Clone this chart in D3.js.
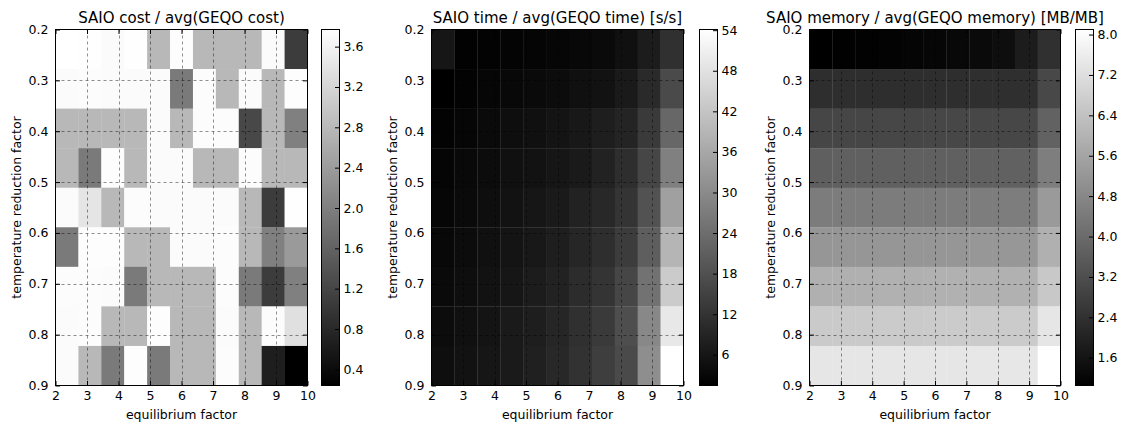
<!DOCTYPE html>
<html>
<head>
<meta charset="utf-8">
<script src="https://cdn.jsdelivr.net/npm/d3@7"></script>
<style>
  html, body { margin: 0; padding: 0; background: #fff; }
  svg { display: block; font-family: "DejaVu Sans", sans-serif; }
</style>
</head>
<body>
<svg id="fig" width="1125" height="428"></svg>
<script>
// Axis ticks shared by all three heatmaps
const equilibriumTicks = [2, 3, 4, 5, 6, 7, 8, 9, 10];
const temperatureTicks = [0.2, 0.3, 0.4, 0.5, 0.6, 0.7, 0.8, 0.9];

// Rows: temperature reduction factor (top to bottom), columns: equilibrium factor (left to right)
const costRatio = [
  [3.77, 3.76, 3.72, 3.75, 2.79, 3.74, 2.79, 2.79, 2.79, 3.71, 1.07],
  [3.72, 3.73, 3.72, 3.71, 3.72, 1.93, 3.73, 2.79, 3.72, 2.79, 3.74],
  [2.79, 2.79, 2.79, 2.79, 3.72, 2.79, 3.73, 3.73, 1.24, 2.79, 2.01],
  [2.79, 1.93, 3.74, 2.79, 3.72, 3.72, 2.79, 2.79, 3.73, 2.79, 2.79],
  [3.72, 3.41, 2.79, 3.73, 3.72, 3.72, 3.72, 3.72, 2.79, 1.07, 3.75],
  [1.93, 3.74, 3.74, 2.79, 2.79, 3.72, 3.72, 3.73, 2.79, 2.01, 2.37],
  [3.73, 3.73, 3.72, 1.93, 2.79, 2.79, 2.79, 3.73, 1.93, 1.07, 2.01],
  [3.72, 3.73, 2.79, 2.79, 3.74, 2.79, 2.79, 3.72, 2.79, 3.73, 3.34],
  [3.72, 2.79, 1.93, 3.74, 1.93, 2.79, 2.79, 3.73, 2.79, 0.66, 0.24]
];

const timeRatio = [
  [6.00, 1.87, 2.08, 2.29, 2.49, 2.70, 3.11, 3.52, 4.76, 7.24, 11.37],
  [1.46, 2.08, 2.70, 3.11, 3.52, 3.94, 4.76, 5.18, 6.83, 10.13, 16.73],
  [2.08, 2.70, 3.52, 4.35, 4.76, 5.59, 6.41, 7.65, 8.89, 13.43, 22.72],
  [2.49, 3.32, 3.94, 4.76, 5.18, 6.00, 6.83, 8.48, 10.95, 15.91, 27.88],
  [2.70, 3.52, 4.35, 5.18, 6.00, 6.83, 8.48, 9.72, 12.19, 18.38, 34.49],
  [3.11, 3.94, 4.76, 5.59, 6.41, 7.65, 9.30, 10.95, 13.84, 20.86, 38.82],
  [3.52, 4.35, 5.18, 6.00, 7.24, 8.48, 10.54, 12.19, 15.91, 24.99, 43.36],
  [3.94, 4.76, 5.59, 6.83, 7.65, 9.30, 11.37, 13.43, 17.56, 29.53, 49.34],
  [4.35, 5.18, 6.00, 6.83, 8.06, 9.72, 11.78, 14.26, 16.73, 30.77, 54.10]
];

const memoryRatio = [
  [1.05, 1.08, 1.11, 1.13, 1.19, 1.22, 1.27, 1.33, 1.44, 1.82, 2.38],
  [2.31, 2.32, 2.32, 2.33, 2.32, 2.33, 2.33, 2.34, 2.34, 2.35, 3.04],
  [2.98, 2.99, 2.99, 3.00, 2.99, 3.00, 3.00, 3.01, 3.01, 3.02, 3.76],
  [3.69, 3.70, 3.70, 3.71, 3.70, 3.71, 3.71, 3.72, 3.72, 3.73, 4.53],
  [4.47, 4.48, 4.48, 4.49, 4.48, 4.49, 4.49, 4.50, 4.50, 4.51, 5.31],
  [5.19, 5.20, 5.20, 5.21, 5.20, 5.21, 5.21, 5.22, 5.22, 5.23, 5.92],
  [5.91, 5.92, 5.92, 5.93, 5.92, 5.93, 5.93, 5.94, 5.94, 5.95, 6.58],
  [6.63, 6.64, 6.64, 6.65, 6.64, 6.65, 6.65, 6.66, 6.66, 6.67, 7.41],
  [7.40, 7.41, 7.41, 7.42, 7.41, 7.42, 7.42, 7.43, 7.43, 7.44, 8.10]
];

// Colorbar tick labels
const costBarTicks = [0.4, 0.8, 1.2, 1.6, 2.0, 2.4, 2.8, 3.2, 3.6];
const timeBarTicks = [6, 12, 18, 24, 30, 36, 42, 48, 54];
const memoryBarTicks = [1.6, 2.4, 3.2, 4.0, 4.8, 5.6, 6.4, 7.2, 8.0];

const titles = [
  "SAIO cost / avg(GEQO cost)",
  "SAIO time / avg(GEQO time) [s/s]",
  "SAIO memory / avg(GEQO memory) [MB/MB]"
];
const xLabel = "equilibrium factor";
const yLabel = "temperature reduction factor";

// Layout
const TOP = 29.5, BOTTOM = 385.5;
const FONT = "DejaVu Sans";
const TICK_FS = 12.5, TITLE_FS = 15;
const TICK_LEN = 4.5;

const panels = [
  { values: costRatio,   bar: costBarTicks,   fmt: d3.format(".1f"), left: 55.5,  right: 307.5,  cbL: 321.5,  cbR: 339.5 },
  { values: timeRatio,   bar: timeBarTicks,   fmt: d3.format("d"),   left: 431.5, right: 683.5,  cbL: 699.5,  cbR: 717.5 },
  { values: memoryRatio, bar: memoryBarTicks, fmt: d3.format(".1f"), left: 809.5, right: 1060.5, cbL: 1075.5, cbR: 1093.5 }
];

const svg = d3.select("#fig");
const defs = svg.append("defs");

function styleAxis(g) {
  g.select(".domain").remove();
  g.attr("font-family", FONT).attr("font-size", TICK_FS);
  g.selectAll(".tick line").attr("stroke", "#000").attr("stroke-width", 1);
  g.selectAll(".tick text").attr("fill", "#000");
}

panels.forEach((p, idx) => {
  const g = svg.append("g");
  const nRows = p.values.length, nCols = p.values[0].length;

  const x = d3.scaleLinear().domain([2, 10]).range([p.left, p.right]);
  const y = d3.scaleLinear().domain([0.2, 0.9]).range([TOP, BOTTOM]);
  const colBand = d3.scaleBand().domain(d3.range(nCols)).range([p.left, p.right]);
  const rowBand = d3.scaleBand().domain(d3.range(nRows)).range([TOP, BOTTOM]);
  const ext = d3.extent(p.values.flat());
  const color = d3.scaleLinear().domain(ext).range(["#000000", "#ffffff"]).clamp(true);

  // Heatmap cells
  g.append("g")
    .selectAll("g")
    .data(p.values)
    .join("g")
    .selectAll("rect")
    .data((row, i) => row.map((v, j) => ({ v, i, j })))
    .join("rect")
    .attr("x", d => colBand(d.j))
    .attr("y", d => rowBand(d.i))
    .attr("width", colBand.bandwidth() + 0.3)
    .attr("height", rowBand.bandwidth() + 0.3)
    .attr("fill", d => color(d.v));

  // Dashed grid at every tick
  const grid = g.append("g")
    .attr("stroke", "#000")
    .attr("stroke-opacity", 0.55)
    .attr("stroke-width", 0.8)
    .attr("stroke-dasharray", "3,3");
  grid.selectAll("line.vx")
    .data(equilibriumTicks.slice(1, -1))
    .join("line")
    .attr("x1", d => Math.round(x(d)) + 0.5).attr("x2", d => Math.round(x(d)) + 0.5)
    .attr("y1", TOP).attr("y2", BOTTOM);
  grid.selectAll("line.hy")
    .data(temperatureTicks.slice(1, -1))
    .join("line")
    .attr("y1", d => Math.round(y(d)) + 0.5).attr("y2", d => Math.round(y(d)) + 0.5)
    .attr("x1", p.left).attr("x2", p.right);

  // Inward ticks on all four sides
  g.append("g").attr("transform", `translate(0,${BOTTOM})`)
    .call(d3.axisBottom(x).tickValues(equilibriumTicks).tickFormat(d3.format("d"))
      .tickSize(-TICK_LEN).tickPadding(6))
    .call(styleAxis);
  g.append("g").attr("transform", `translate(0,${TOP})`)
    .call(d3.axisTop(x).tickValues(equilibriumTicks).tickFormat(() => "").tickSize(-TICK_LEN))
    .call(styleAxis);
  g.append("g").attr("transform", `translate(${p.left},0)`)
    .call(d3.axisLeft(y).tickValues(temperatureTicks).tickFormat(d3.format(".1f"))
      .tickSize(-TICK_LEN).tickPadding(7))
    .call(styleAxis);
  g.append("g").attr("transform", `translate(${p.right},0)`)
    .call(d3.axisRight(y).tickValues(temperatureTicks).tickFormat(() => "").tickSize(-TICK_LEN))
    .call(styleAxis);

  // Frame
  g.append("rect")
    .attr("x", p.left).attr("y", TOP)
    .attr("width", p.right - p.left).attr("height", BOTTOM - TOP)
    .attr("fill", "none").attr("stroke", "#000").attr("stroke-width", 1);

  // Title and axis labels
  g.append("text")
    .attr("x", (p.left + p.right) / 2).attr("y", 23)
    .attr("text-anchor", "middle")
    .attr("font-family", FONT).attr("font-size", TITLE_FS)
    .text(titles[idx]);
  g.append("text")
    .attr("x", (p.left + p.right) / 2).attr("y", 419)
    .attr("text-anchor", "middle")
    .attr("font-family", FONT).attr("font-size", TICK_FS)
    .text(xLabel);
  g.append("text")
    .attr("transform", `translate(${p.left - 35},${(TOP + BOTTOM) / 2}) rotate(-90)`)
    .attr("text-anchor", "middle")
    .attr("font-family", FONT).attr("font-size", TICK_FS)
    .text(yLabel);

  // Colorbar
  const gradId = "cbGrad" + idx;
  const grad = defs.append("linearGradient")
    .attr("id", gradId).attr("x1", 0).attr("y1", 1).attr("x2", 0).attr("y2", 0);
  grad.append("stop").attr("offset", 0).attr("stop-color", color(ext[0]));
  grad.append("stop").attr("offset", 1).attr("stop-color", color(ext[1]));

  const cy = d3.scaleLinear().domain(ext).range([BOTTOM, TOP]);
  g.append("rect")
    .attr("x", p.cbL).attr("y", TOP)
    .attr("width", p.cbR - p.cbL).attr("height", BOTTOM - TOP)
    .attr("fill", `url(#${gradId})`)
    .attr("stroke", "#000").attr("stroke-width", 1);
  g.append("g").attr("transform", `translate(${p.cbR},0)`)
    .call(d3.axisRight(cy).tickValues(p.bar).tickFormat(p.fmt)
      .tickSize(-TICK_LEN).tickPadding(4))
    .call(styleAxis);
});
</script>
</body>
</html>
